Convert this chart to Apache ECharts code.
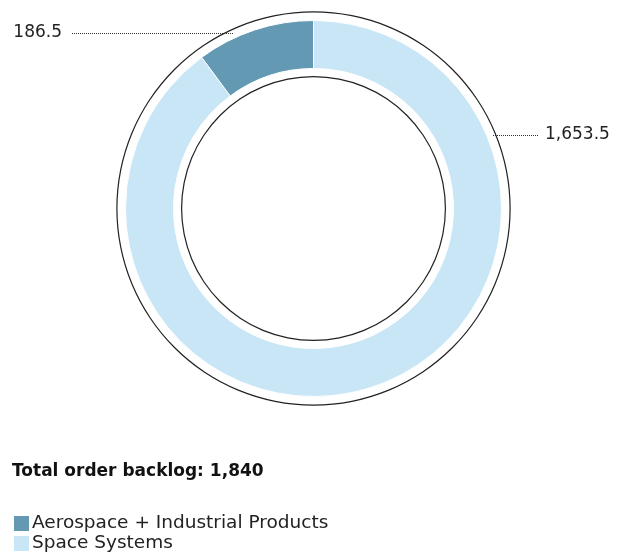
<!DOCTYPE html>
<html>
<head>
<meta charset="utf-8">
<script src="https://cdn.jsdelivr.net/npm/echarts@6/dist/echarts.min.js"></script>
<style>html,body{margin:0;padding:0;background:#fff}#c{width:622px;height:558px}</style>
</head>
<body>
<div id="c"></div>
<script>
const categories = ["Space Systems", "Aerospace + Industrial Products"];
const values = [1653.5, 186.5];
const colors = ["#c9e6f7", "#6399b3"];
const legendOrder = ["Aerospace + Industrial Products", "Space Systems"];
const titleText = "Total order backlog: 1,840";

const fmt = v => v.toLocaleString("en-US", {maximumFractionDigits: 1});
const labelPos = [
  {x: 545, y: 135, align: "left", line: [[493, 135.5], [538, 135.5]]},
  {x: 62, y: 33, align: "right", line: [[233, 33.5], [72, 33.5]]}
];

const chart = echarts.init(document.getElementById("c"), null, {renderer: "canvas"});
chart.setOption({
  animation: false,
  title: {
    text: titleText, left: 12, top: 463, padding: 0,
    textStyle: {fontFamily: "DejaVu Sans", fontWeight: "bold", fontSize: 17, color: "#111"}
  },
  legend: {
    data: legendOrder, orient: "vertical", left: 12, top: 514,
    itemWidth: 17, itemHeight: 17, itemGap: 1, padding: 0,
    icon: "rect",
    textStyle: {fontFamily: "DejaVu Sans", fontSize: 18.5, color: "#222", padding: [0, 0, 0, -3]},
    selectedMode: false
  },
  series: [
    {
      type: "pie", silent: true, center: [313.5, 208.5], radius: [196, 197.2],
      data: [{value: 1, name: "outer"}], itemStyle: {color: "#222"},
      label: {show: false}, labelLine: {show: false}
    },
    {
      type: "pie", silent: true, center: [313.5, 208.5], radius: [131.3, 132.5],
      data: [{value: 1, name: "inner"}], itemStyle: {color: "#222"},
      label: {show: false}, labelLine: {show: false}
    },
    {
      type: "pie", center: [313.5, 208.5], radius: [140, 188], startAngle: 90, clockwise: true,
      data: categories.map((c, i) => ({name: c, value: values[i], itemStyle: {color: colors[i]}})),
      itemStyle: {borderColor: "#fff", borderWidth: 1},
      label: {
        show: true, position: "outside",
        formatter: p => fmt(p.value),
        fontFamily: "DejaVu Sans", fontSize: 17, color: "#222"
      },
      labelLine: {show: true, smooth: false, lineStyle: {type: "dotted", color: "#333", width: 1}},
      labelLayout: p => {
        const L = labelPos[p.dataIndex];
        return {x: L.x, y: L.y, align: L.align, verticalAlign: "middle", labelLinePoints: [L.line[0], L.line[0], L.line[1]]};
      }
    }
  ]
});
</script>
</body>
</html>
